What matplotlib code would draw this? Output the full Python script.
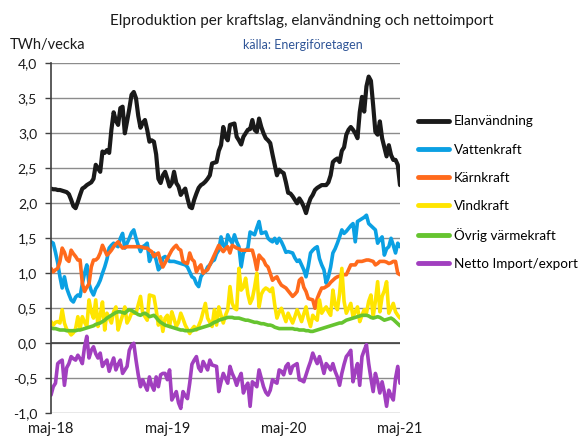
import numpy as np
import matplotlib
matplotlib.use('Agg')
import matplotlib.pyplot as plt

plt.rcParams['font.family'] = ['Lato', 'DejaVu Sans']

# weekly values, TWh/vecka, maj-18 .. maj-21
elanvandning = [
    2.21, 2.20, 2.20, 2.19, 2.19, 2.18, 2.17, 2.16, 2.13, 2.05, 1.96, 1.93, 2.02, 2.12, 2.21, 2.23,
    2.26, 2.28, 2.30, 2.35, 2.55, 2.50, 2.45, 2.74, 2.72, 2.76, 2.72, 3.05, 3.30, 3.18, 3.12, 3.36,
    3.38, 3.00, 3.17, 3.35, 3.55, 3.59, 3.50, 3.25, 3.08, 3.15, 3.19, 3.05, 2.88, 2.90, 2.88, 2.70,
    2.35, 2.29, 2.40, 2.45, 2.35, 2.24, 2.29, 2.45, 2.29, 2.24, 2.12, 2.17, 2.21, 2.07, 1.95, 1.93,
    2.05, 2.14, 2.22, 2.26, 2.28, 2.31, 2.35, 2.40, 2.57, 2.58, 2.59, 2.75, 2.83, 3.09, 2.95, 2.90,
    3.12, 3.13, 3.14, 2.95, 2.90, 2.84, 2.95, 3.00, 3.05, 3.06, 3.19, 3.05, 3.02, 3.21, 3.09, 3.00,
    2.93, 2.90, 2.86, 2.70, 2.55, 2.40, 2.48, 2.45, 2.43, 2.30, 2.15, 2.14, 2.10, 2.05, 2.00, 2.07,
    2.02, 1.95, 1.86, 1.98, 2.07, 2.12, 2.19, 2.22, 2.24, 2.26, 2.26, 2.26, 2.30, 2.40, 2.59, 2.62,
    2.64, 2.59, 2.75, 2.80, 2.98, 3.05, 3.09, 3.05, 3.00, 2.93, 3.30, 3.52, 3.31, 3.67, 3.81, 3.75,
    3.40, 3.02, 2.98, 3.17, 2.93, 2.80, 2.67, 2.83, 2.69, 2.62, 2.62, 2.55, 2.26,
]
vattenkraft = [
    1.45, 1.43, 1.30, 1.15, 0.95, 0.79, 0.95, 0.79, 0.70, 0.62, 0.59, 0.66, 0.69, 0.67, 0.85, 1.00,
    1.12, 0.85, 0.75, 0.69, 0.78, 0.83, 0.90, 1.00, 1.09, 1.20, 1.36, 1.40, 1.43, 1.40, 1.38, 1.50,
    1.57, 1.36, 1.43, 1.50, 1.58, 1.62, 1.50, 1.40, 1.31, 1.38, 1.40, 1.43, 1.17, 1.25, 1.29, 1.19,
    1.05, 1.09, 1.22, 1.24, 1.21, 1.17, 1.17, 1.17, 1.16, 1.15, 1.14, 1.13, 1.12, 1.09, 1.02, 0.95,
    0.93, 0.85, 0.81, 0.95, 1.00, 1.02, 1.09, 1.12, 1.17, 1.19, 1.28, 1.33, 1.52, 1.40, 1.36, 1.55,
    1.48, 1.43, 1.55, 1.45, 1.38, 1.09, 1.29, 1.33, 1.36, 1.59, 1.57, 1.55, 1.65, 1.74, 1.57, 1.58,
    1.59, 1.50, 1.47, 1.45, 1.50, 1.43, 1.50, 1.45, 1.38, 1.30, 1.31, 1.30, 1.29, 1.22, 1.17, 1.19,
    1.12, 1.05, 0.95, 1.10, 1.29, 1.33, 1.36, 1.38, 1.21, 1.12, 1.05, 0.86, 0.95, 1.09, 1.29, 1.35,
    1.43, 1.52, 1.62, 1.57, 1.60, 1.64, 1.68, 1.71, 1.45, 1.74, 1.76, 1.78, 1.80, 1.83, 1.71, 1.68,
    1.65, 1.62, 1.43, 1.48, 1.52, 1.26, 1.35, 1.38, 1.50, 1.40, 1.29, 1.43, 1.38,
]
karnkraft = [
    1.07, 1.02, 1.05, 1.07, 1.17, 1.36, 1.30, 1.20, 1.17, 1.33, 1.28, 1.24, 1.19, 1.19, 0.86, 0.74,
    0.80, 0.85, 1.09, 1.19, 1.19, 1.22, 1.29, 1.40, 1.33, 1.26, 1.29, 1.33, 1.38, 1.42, 1.45, 1.40,
    1.36, 1.37, 1.38, 1.38, 1.38, 1.38, 1.38, 1.38, 1.38, 1.37, 1.36, 1.36, 1.33, 1.31, 1.24, 1.27,
    1.29, 1.17, 1.09, 1.15, 1.21, 1.27, 1.33, 1.37, 1.40, 1.35, 1.33, 1.17, 1.15, 1.14, 1.29, 1.20,
    1.17, 1.02, 1.08, 1.12, 1.00, 1.03, 1.05, 1.12, 1.19, 1.26, 1.33, 1.40, 1.35, 1.31, 1.35, 1.38,
    1.29, 1.40, 1.38, 1.36, 1.35, 1.33, 1.33, 1.33, 1.33, 1.33, 1.33, 1.21, 1.05, 1.26, 1.22, 1.19,
    1.12, 1.09, 1.00, 0.90, 0.93, 0.95, 0.88, 0.83, 0.81, 0.79, 0.75, 0.71, 0.67, 0.70, 0.74, 0.90,
    0.93, 0.80, 0.74, 0.64, 0.63, 0.62, 0.50, 0.64, 0.72, 0.79, 0.79, 0.81, 0.83, 0.87, 0.90, 0.93,
    0.95, 0.96, 0.98, 0.98, 0.98, 1.05, 1.12, 1.12, 1.12, 1.17, 1.17, 1.17, 1.18, 1.19, 1.19, 1.18,
    1.17, 1.12, 1.14, 1.17, 1.17, 1.17, 1.16, 1.14, 1.15, 1.17, 1.17, 1.00, 0.98,
]
vindkraft = [
    0.31, 0.26, 0.30, 0.31, 0.29, 0.48, 0.29, 0.20, 0.17, 0.12, 0.15, 0.21, 0.38, 0.21, 0.38, 0.30,
    0.24, 0.62, 0.45, 0.36, 0.62, 0.24, 0.40, 0.59, 0.19, 0.43, 0.36, 0.29, 0.45, 0.52, 0.19, 0.30,
    0.40, 0.52, 0.29, 0.35, 0.43, 0.43, 0.43, 0.55, 0.67, 0.43, 0.38, 0.33, 0.69, 0.68, 0.67, 0.48,
    0.26, 0.38, 0.17, 0.36, 0.40, 0.24, 0.45, 0.35, 0.24, 0.30, 0.43, 0.35, 0.26, 0.20, 0.14, 0.20,
    0.24, 0.19, 0.25, 0.33, 0.45, 0.57, 0.36, 0.30, 0.24, 0.48, 0.26, 0.52, 0.40, 0.29, 0.40, 0.48,
    0.81, 0.57, 0.50, 0.48, 1.07, 0.76, 0.80, 0.93, 0.70, 0.57, 0.64, 0.80, 1.00, 0.52, 0.70, 0.76,
    0.79, 0.77, 0.74, 0.79, 0.55, 0.36, 0.45, 0.50, 0.40, 0.31, 0.43, 0.36, 0.29, 0.38, 0.48, 0.40,
    0.31, 0.42, 0.52, 0.35, 0.24, 0.40, 0.36, 0.33, 0.62, 0.43, 0.48, 0.52, 0.45, 0.40, 0.76, 0.55,
    0.48, 0.71, 1.07, 0.60, 0.43, 0.50, 0.57, 0.38, 0.45, 0.52, 0.31, 0.40, 0.48, 0.43, 0.60, 0.69,
    0.38, 0.60, 0.88, 0.45, 0.67, 0.75, 0.88, 0.43, 0.50, 0.57, 0.45, 0.40, 0.36,
]
ovrig_varmekraft = [
    0.22, 0.21, 0.21, 0.20, 0.19, 0.19, 0.19, 0.18, 0.18, 0.18, 0.18, 0.18, 0.19, 0.19, 0.20, 0.21,
    0.22, 0.23, 0.24, 0.25, 0.27, 0.28, 0.29, 0.31, 0.33, 0.36, 0.38, 0.40, 0.42, 0.44, 0.45, 0.45,
    0.44, 0.43, 0.46, 0.48, 0.47, 0.45, 0.43, 0.41, 0.40, 0.42, 0.43, 0.41, 0.38, 0.39, 0.40, 0.37,
    0.33, 0.30, 0.28, 0.26, 0.25, 0.24, 0.23, 0.22, 0.21, 0.20, 0.19, 0.19, 0.18, 0.18, 0.18, 0.18,
    0.19, 0.20, 0.21, 0.22, 0.23, 0.24, 0.25, 0.26, 0.28, 0.30, 0.31, 0.33, 0.34, 0.35, 0.36, 0.37,
    0.37, 0.37, 0.36, 0.36, 0.36, 0.35, 0.34, 0.33, 0.33, 0.32, 0.31, 0.30, 0.30, 0.29, 0.28, 0.28,
    0.27, 0.26, 0.26, 0.25, 0.23, 0.22, 0.21, 0.21, 0.21, 0.21, 0.21, 0.21, 0.21, 0.20, 0.20, 0.19,
    0.19, 0.19, 0.18, 0.18, 0.17, 0.17, 0.18, 0.19, 0.20, 0.21, 0.22, 0.23, 0.24, 0.25, 0.26, 0.27,
    0.28, 0.29, 0.29, 0.31, 0.33, 0.34, 0.35, 0.36, 0.37, 0.38, 0.39, 0.40, 0.40, 0.40, 0.39, 0.37,
    0.36, 0.37, 0.38, 0.37, 0.35, 0.33, 0.34, 0.35, 0.36, 0.34, 0.31, 0.28, 0.25,
]
netto_import = [
    -0.74, -0.62, -0.57, -0.29, -0.26, -0.24, -0.60, -0.35, -0.29, -0.19, -0.22, -0.24, -0.17, -0.22, -0.29, -0.05,
    0.10, -0.21, -0.10, -0.05, -0.15, -0.21, -0.14, -0.33, -0.28, -0.24, -0.40, -0.30, -0.21, -0.38, -0.30, -0.24,
    -0.43, -0.38, -0.33, -0.10, -0.03, 0.00, -0.24, -0.45, -0.62, -0.52, -0.60, -0.67, -0.48, -0.60, -0.67, -0.48,
    -0.62, -0.45, -0.43, -0.43, -0.52, -0.38, -0.81, -0.75, -0.69, -0.85, -0.93, -0.69, -0.75, -0.79, -0.57, -0.30,
    -0.24, -0.19, -0.35, -0.40, -0.26, -0.32, -0.38, -0.24, -0.31, -0.32, -0.33, -0.69, -0.55, -0.43, -0.50, -0.57,
    -0.33, -0.43, -0.50, -0.60, -0.50, -0.43, -0.71, -0.62, -0.57, -0.90, -0.55, -0.58, -0.62, -0.38, -0.50, -0.62,
    -0.70, -0.74, -0.67, -0.52, -0.55, -0.57, -0.38, -0.40, -0.45, -0.33, -0.29, -0.43, -0.33, -0.31, -0.29, -0.52,
    -0.53, -0.55, -0.45, -0.35, -0.26, -0.14, -0.22, -0.29, -0.19, -0.30, -0.43, -0.29, -0.33, -0.38, -0.29, -0.40,
    -0.48, -0.60, -0.43, -0.30, -0.19, -0.15, -0.10, -0.55, -0.40, -0.29, -0.60, -0.19, -0.10, -0.02, -0.29, -0.50,
    -0.69, -0.43, -0.55, -0.71, -0.55, -0.70, -0.90, -0.67, -0.75, -0.81, -0.50, -0.33, -0.57,
]

series_names = ['Elanvändning', 'Vattenkraft', 'Kärnkraft', 'Vindkraft',
                'Övrig värmekraft', 'Netto Import/export']
series_values = [elanvandning, vattenkraft, karnkraft, vindkraft, ovrig_varmekraft, netto_import]
series_colors = ['#1a1a1a', '#0ba0e3', '#ff6a1c', '#ffe500', '#66c430', '#a13fbf']
series_widths = [3.0, 2.6, 2.6, 2.6, 2.6, 2.6]

tick_weeks = [0, 52, 104, 156]
tick_labels = ['maj-18', 'maj-19', 'maj-20', 'maj-21']
y_ticks = np.arange(-1.0, 4.01, 0.5)

fig = plt.figure(figsize=(5.82, 4.38), dpi=100)
ax = fig.add_axes([51 / 582, 1 - 413.3 / 438, 349 / 582, 350 / 438])

for name, values, color, lw in zip(series_names, series_values, series_colors, series_widths):
    weeks = np.arange(len(values))
    ax.plot(weeks, values, color=color, linewidth=lw, label=name,
            solid_joinstyle='round', solid_capstyle='round')

ax.set_xlim(0, 156)
ax.set_ylim(-1.0, 4.0)
ax.set_yticks(y_ticks)
ax.set_yticklabels([f'{v:.1f}'.replace('.', ',') for v in y_ticks])
ax.set_xticks(tick_weeks)
ax.set_xticklabels(tick_labels)

for v in y_ticks:
    ax.axhline(v, color='#8c8c8c', linewidth=1.0, zorder=0)
ax.axhline(0, color='#404040', linewidth=1.2, zorder=0)

for side in ['top', 'right', 'bottom']:
    ax.spines[side].set_visible(False)
ax.spines['left'].set_color('#404040')
ax.spines['left'].set_linewidth(1.2)
ax.tick_params(axis='y', length=4, width=1, color='#404040', pad=6, labelsize=10, labelcolor='#1a1a1a')
ax.tick_params(axis='x', length=0, pad=6, labelsize=10.5, labelcolor='#1a1a1a')

fig.text(302 / 582, 1 - 21 / 438, 'Elproduktion per kraftslag, elanvändning och nettoimport',
         ha='center', va='center', fontsize=11, color='#1a1a1a')
fig.text(303 / 582, 1 - 45 / 438, 'källa: Energiföretagen',
         ha='center', va='center', fontsize=9, color='#2f5597')
fig.text(10 / 582, 1 - 45 / 438, 'TWh/vecka', ha='left', va='center', fontsize=10.5, color='#1a1a1a')

leg = ax.legend(loc='upper left', bbox_to_anchor=(413 / 582, 1 - 110 / 438),
                bbox_transform=fig.transFigure, frameon=False, fontsize=9.7,
                handlelength=2.3, handletextpad=0.35, labelspacing=1.2, borderaxespad=0)
for line in leg.get_lines():
    line.set_linewidth(3.5)

fig.savefig('out.png', dpi=100)
